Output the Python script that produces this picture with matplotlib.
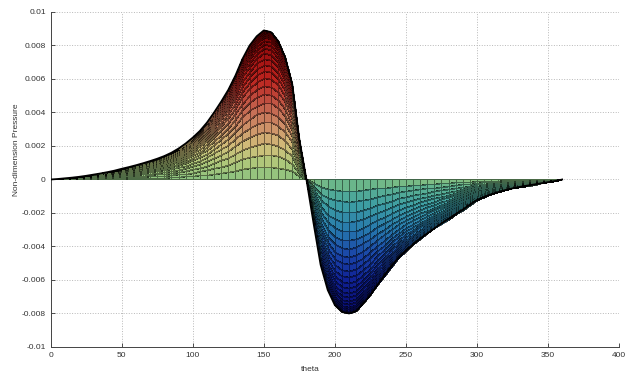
import numpy as np
import matplotlib
matplotlib.use("Agg")
import matplotlib.pyplot as plt
from matplotlib.colors import LinearSegmentedColormap, Normalize

plt.rcParams['font.family'] = ['Liberation Sans', 'DejaVu Sans']

# circumferential angle (deg)
theta = [0, 5, 10, 15, 20, 25, 30, 35, 40, 45, 50, 55, 60, 65, 70, 75, 80, 85, 90,
         95, 100, 105, 110, 115, 120, 125, 130, 135, 140, 145, 150, 155, 160, 165, 170,
         175, 180, 185, 190, 195, 200, 205, 210, 215, 220, 225, 230, 235, 240, 245, 250,
         255, 260, 265, 270, 275, 280, 285, 290, 295, 300, 305, 310, 315, 320, 325, 330,
         335, 340, 345, 350, 355, 360]

# pressure on the mid-plane (outer envelope)
p_mid = [0.0, 0.00003, 0.00007, 0.00011, 0.00016, 0.00022, 0.00029, 0.00036, 0.00044,
         0.00053, 0.00064, 0.00074, 0.00085, 0.00097, 0.00110, 0.00124, 0.00140, 0.00160,
         0.00185, 0.00215, 0.00250, 0.00290, 0.00340, 0.00400, 0.00465, 0.00535, 0.00620,
         0.00720, 0.00800, 0.00855, 0.00890, 0.00880, 0.00828, 0.00730, 0.00570, 0.00240,
         0.0, -0.00260, -0.00510, -0.00660, -0.00750, -0.00790, -0.00800, -0.00785,
         -0.00740, -0.00690, -0.00630, -0.00570, -0.00515, -0.00465, -0.00425, -0.00388,
         -0.00353, -0.00322, -0.00292, -0.00263, -0.00235, -0.00207, -0.00180, -0.00150,
         -0.00122, -0.00104, -0.00088, -0.00075, -0.00063, -0.00053, -0.00044, -0.00037,
         -0.00030, -0.00023, -0.00016, -0.00009, 0.0]

# relative pressure level of each axial mesh line (edge -> mid-plane)
axial_fraction = [0.0, 0.085, 0.166, 0.244, 0.318, 0.388, 0.454, 0.516, 0.575, 0.630,
                  0.681, 0.728, 0.771, 0.811, 0.847, 0.879, 0.907, 0.932, 0.953, 0.970,
                  0.983, 0.992, 0.998, 1.0]

x_ticks = [0, 50, 100, 150, 200, 250, 300, 350, 400]
y_ticks = [-0.01, -0.008, -0.006, -0.004, -0.002, 0, 0.002, 0.004, 0.006, 0.008, 0.01]
y_ticklabels = ['-0.01', '-0.008', '-0.006', '-0.004', '-0.002', '0',
                '0.002', '0.004', '0.006', '0.008', '0.01']

th = np.asarray(theta, float)
pm = np.asarray(p_mid, float)
fr = np.asarray(axial_fraction, float)
X = np.tile(th, (len(fr), 1))
Y = fr[:, None] * pm[None, :]
C = 0.25 * (Y[:-1, :-1] + Y[1:, :-1] + Y[:-1, 1:] + Y[1:, 1:])

stops = [
    (-0.0080, (0.03, 0.04, 0.42)),
    (-0.0060, (0.06, 0.13, 0.58)),
    (-0.0045, (0.10, 0.27, 0.66)),
    (-0.0030, (0.15, 0.47, 0.68)),
    (-0.0015, (0.24, 0.62, 0.64)),
    (-0.0004, (0.38, 0.70, 0.56)),
    (0.0000, (0.54, 0.76, 0.50)),
    (0.0010, (0.68, 0.78, 0.48)),
    (0.0020, (0.82, 0.75, 0.48)),
    (0.0030, (0.81, 0.59, 0.42)),
    (0.0040, (0.78, 0.44, 0.34)),
    (0.0050, (0.75, 0.28, 0.23)),
    (0.0060, (0.74, 0.14, 0.12)),
    (0.0075, (0.62, 0.06, 0.06)),
    (0.0089, (0.42, 0.00, 0.00)),
]
vmin, vmax = stops[0][0], stops[-1][0]
cmap = LinearSegmentedColormap.from_list(
    'bearing', [((v - vmin) / (vmax - vmin), c) for v, c in stops])

fig = plt.figure(figsize=(6.29, 3.75), dpi=100)
ax = fig.add_axes([0.0806, 0.0747, 0.9035, 0.8933])

ax.grid(True, color='#b8b8b8', linestyle=':', linewidth=0.7)
ax.set_axisbelow(True)

ax.pcolormesh(X, Y, C, cmap=cmap, norm=Normalize(vmin, vmax), shading='flat',
              edgecolors=(0, 0, 0, 0.45), linewidth=0.4, zorder=2)
# outer (mid-plane) edge of the surface
ax.plot(th, pm, color='black', linewidth=1.3, zorder=3)

ax.set_xlim(0, 400)
ax.set_ylim(-0.01, 0.01)
ax.set_xticks(x_ticks)
ax.set_yticks(y_ticks)
ax.set_yticklabels(y_ticklabels)
ax.tick_params(direction='in', length=3, width=0.6, labelsize=6, colors='#333333')
for s in ['top', 'right']:
    ax.spines[s].set_visible(False)
for s in ['left', 'bottom']:
    ax.spines[s].set_color('#444444')
    ax.spines[s].set_linewidth(0.7)

ax.set_xlabel('theta', fontsize=6, color='#333333')
ax.xaxis.set_label_coords(0.456, -0.057)
ax.set_ylabel('Non-dimension Pressure', fontsize=6, color='#333333')
ax.yaxis.set_label_coords(-0.054, 0.588)

fig.savefig('out.png', dpi=100)
